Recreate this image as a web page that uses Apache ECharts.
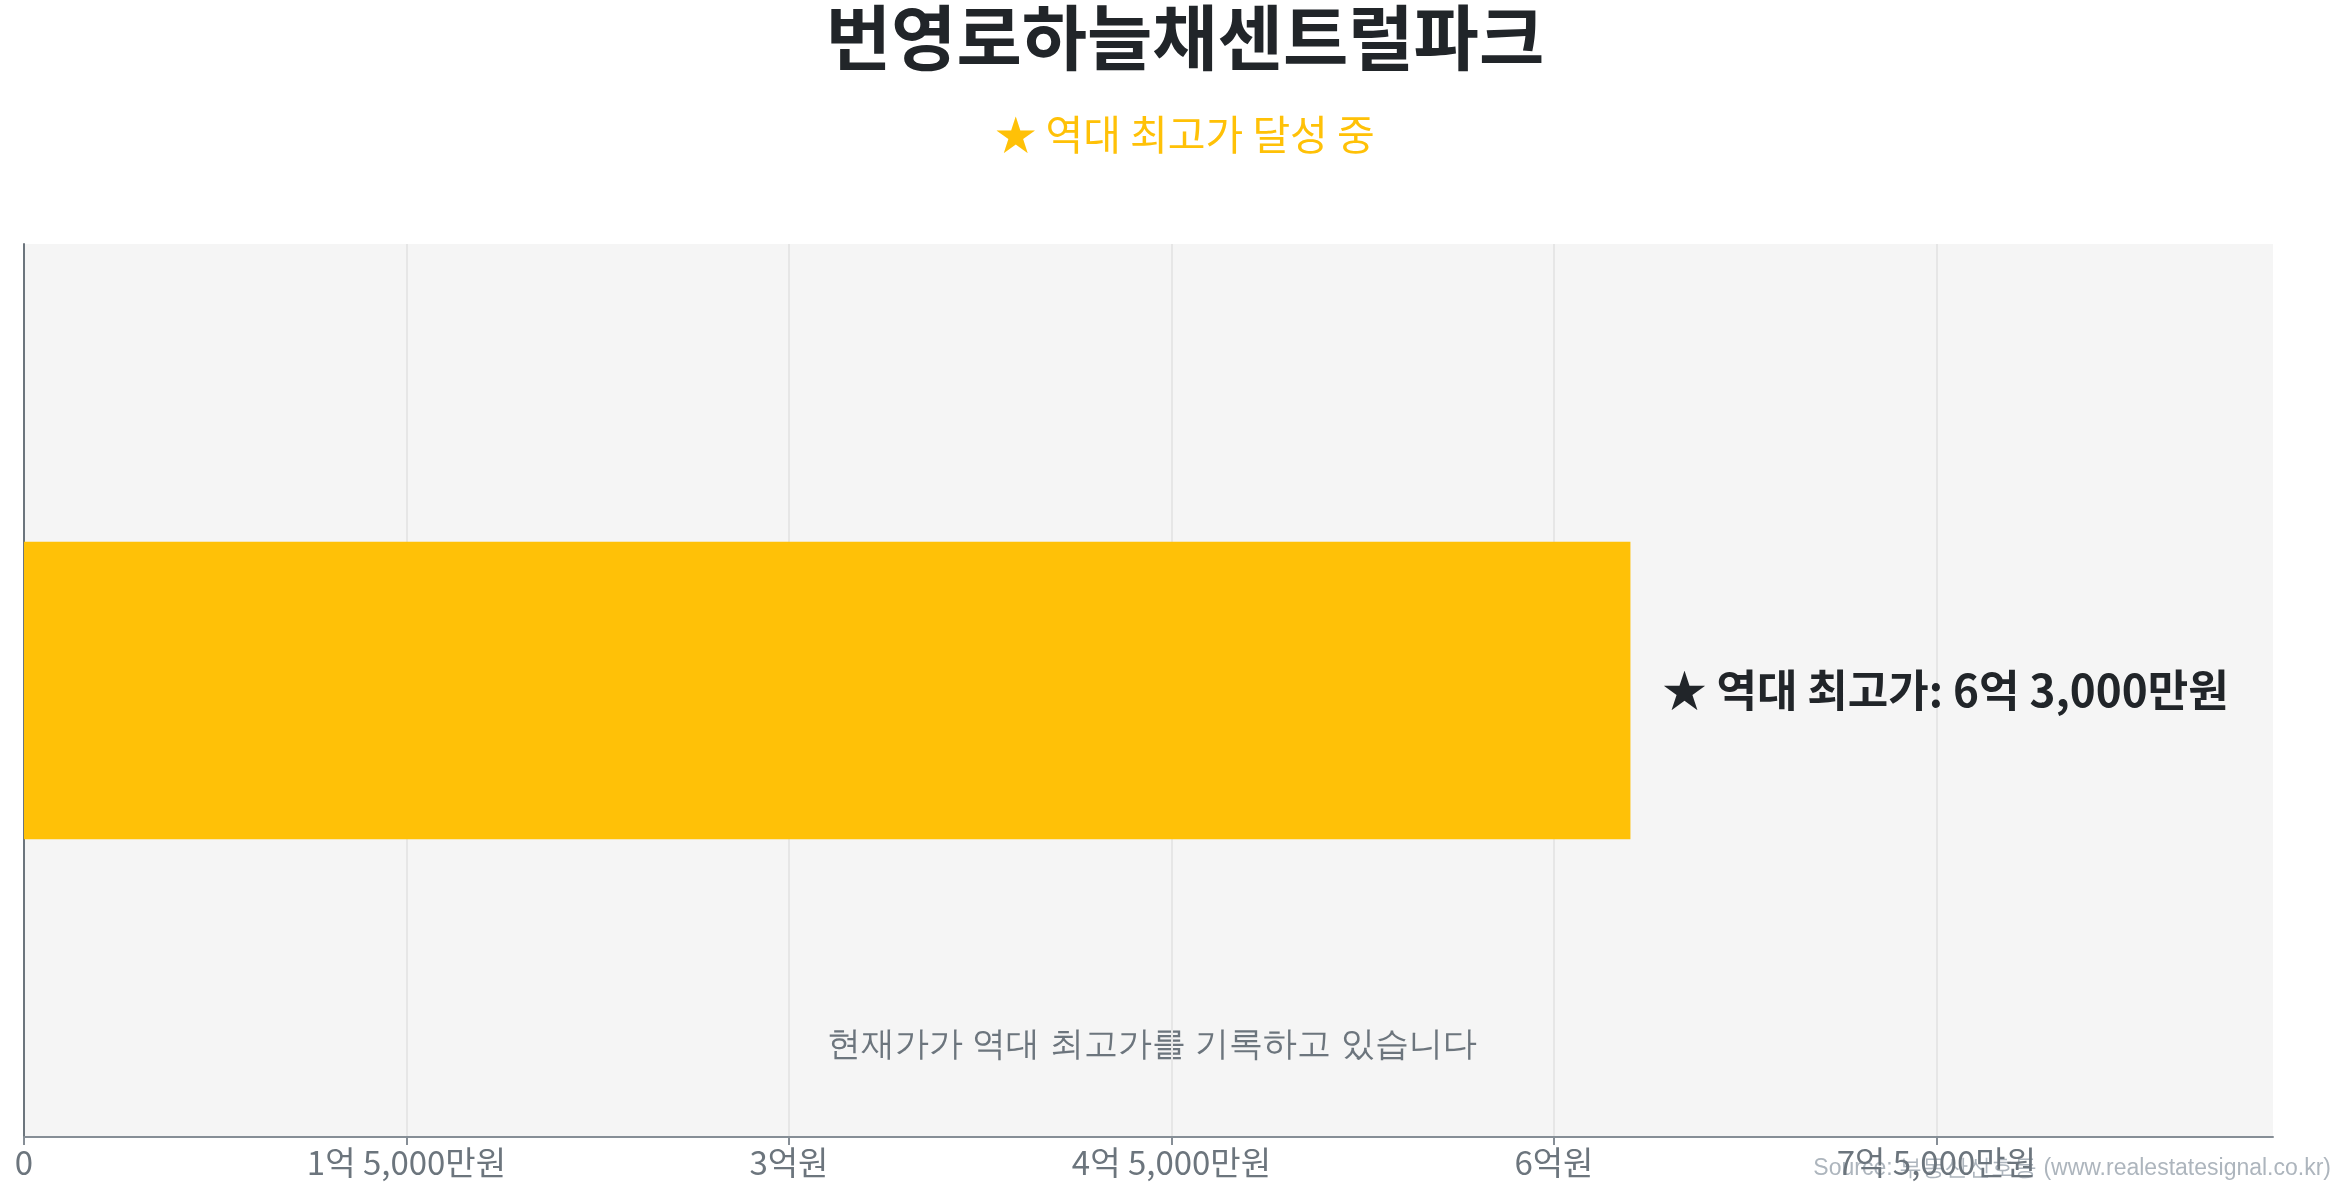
<!DOCTYPE html>
<html><head><meta charset="utf-8">
<script src="https://cdn.jsdelivr.net/npm/echarts@6/dist/echarts.min.js"></script>
<style>html,body{margin:0;padding:0;background:#fff}#c{width:2345px;height:1200px}</style>
</head><body><div id="c"></div>
<script>
const titleText = '번영로하늘채센트럴파크';
const subtitleText = '★ 역대 최고가 달성 중';
const categories = ['번영로하늘채센트럴파크'];
const peakValues = [63000]; // 만원
const axisMax = 88200;
const axisInterval = 15000;
const noteText = '현재가가 역대 최고가를 기록하고 있습니다';
const sourceText = 'Source: 부동산신호등 (www.realestatesignal.co.kr)';

function fmt(v){
  if (v === 0) return '0';
  const eok = Math.floor(v / 10000);
  const man = v % 10000;
  let s = '';
  if (eok > 0) s += eok + '억';
  if (man > 0) s += (s ? ' ' : '') + man.toLocaleString('en-US') + '만원';
  else s += '원';
  return s;
}

const FONT = '"Noto Sans CJK KR", "Noto Sans", sans-serif';
const chart = echarts.init(document.getElementById('c'));
chart.setOption({
  animation: false,
  textStyle: { fontFamily: FONT },
  title: [{
    text: titleText,
    left: 1180, textAlign: 'center', top: -3,
    textStyle: { fontSize: 71, fontWeight: 'bold', color: '#212529', fontFamily: FONT }
  },{
    text: subtitleText,
    left: 1180, textAlign: 'center', top: 109,
    textStyle: { fontSize: 41, fontWeight: 'normal', color: '#FFC107', fontFamily: FONT }
  }],
  grid: { left: 24, right: 72, top: 244, bottom: 63, show: true, backgroundColor: '#f5f5f5', borderWidth: 0 },
  xAxis: {
    type: 'value', min: 0, max: axisMax, interval: axisInterval,
    axisLine: { show: true, lineStyle: { color: '#868e96', width: 2 } },
    axisTick: { show: true, length: 8, lineStyle: { color: '#868e96', width: 2 } },
    axisLabel: { formatter: fmt, fontSize: 33, color: '#6c757d', margin: 9, fontFamily: FONT, showMaxLabel: false },
    splitLine: { show: true, showMaxLine: false, lineStyle: { color: '#e6e6e6', width: 2 } }
  },
  yAxis: {
    type: 'category', data: categories,
    axisLine: { show: true, lineStyle: { color: '#6c757d', width: 2 } },
    axisTick: { show: false }, axisLabel: { show: false }
  },
  series: [{
    type: 'bar', data: peakValues, barWidth: '33.3%',
    itemStyle: { color: '#FFC107' },
    label: {
      show: true, position: 'right', distance: 32,
      formatter: p => '★ 역대 최고가: ' + fmt(p.value),
      fontSize: 44, fontWeight: 'bold', color: '#212529', fontFamily: FONT
    }
  }],
  graphic: [{
    type: 'text', left: 1148 - 321, top: 1029,
    style: { text: noteText, fontSize: 34, fill: '#6c757d', font: '34px ' + FONT }
  },{
    type: 'text', right: 14, top: 1157,
    style: { text: sourceText, fontSize: 23, fill: '#adb5bd', font: '23px ' + FONT }
  }]
});
</script></body></html>
